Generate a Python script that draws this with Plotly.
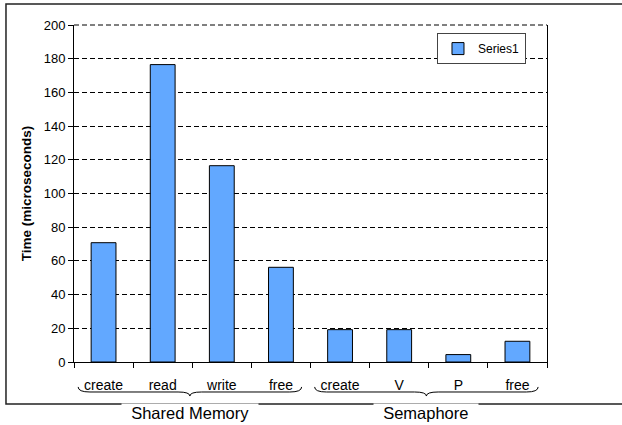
import plotly.graph_objects as go

# ---- data ----
categories = ["create", "read", "write", "free", "create", "V", "P", "free"]
groups = ["Shared Memory", "Shared Memory", "Shared Memory", "Shared Memory",
          "Semaphore", "Semaphore", "Semaphore", "Semaphore"]
series1 = [70.8, 176.5, 116.5, 56.2, 19.2, 19.2, 4.4, 12.3]
series_name = "Series1"
y_ticks = [0, 20, 40, 60, 80, 100, 120, 140, 160, 180, 200]

xs = list(range(len(categories)))
font_family = "Liberation Sans, Arial, sans-serif"

fig = go.Figure()
fig.add_trace(go.Bar(
    x=xs, y=series1, name=series_name,
    marker=dict(color="#62a8ff", line=dict(color="black", width=1)),
    showlegend=True,
))

shapes = []
annotations = []

# outer frame (right edge off-canvas)
shapes.append(dict(type="rect", xref="paper", yref="paper",
                   x0=-0.1438, x1=1.25, y0=-0.1246, y1=1.0623,
                   line=dict(color="#222222", width=1.5), layer="below"))
# top gridline at the top of the axis range (paper ref avoids clipping)
shapes.append(dict(type="line", xref="paper", yref="paper",
                   x0=0, x1=1, y0=1, y1=1,
                   line=dict(color="black", width=1, dash="5px,3px"), layer="above"))

# group braces and labels
group_names = []
for g in groups:
    if g not in group_names:
        group_names.append(g)

y_top, y_mid, y_tip = -0.074, -0.089, -0.101
for g in group_names:
    idx = [i for i, gg in enumerate(groups) if gg == g]
    x0 = idx[0] - 0.43
    x1 = idx[-1] + 0.35
    xm = (x0 + x1) / 2
    d = 0.2
    path = (f"M {x0},{y_top} Q {x0},{y_mid} {x0+d},{y_mid} "
            f"L {xm-d},{y_mid} Q {xm},{y_mid} {xm},{y_tip} "
            f"Q {xm},{y_mid} {xm+d},{y_mid} "
            f"L {x1-d},{y_mid} Q {x1},{y_mid} {x1},{y_top}")
    shapes.append(dict(type="path", path=path, xref="x", yref="paper",
                       line=dict(color="black", width=1), layer="above"))
    annotations.append(dict(x=xm, y=-0.152, xref="x", yref="paper",
                            text="\u00a0\u00a0" + g + "\u00a0\u00a0", showarrow=False,
                            font=dict(size=16.5, color="black", family=font_family),
                            bgcolor="white", borderpad=0,
                            xanchor="center", yanchor="middle"))

fig.update_layout(
    width=622, height=425,
    margin=dict(l=74, r=75, t=25, b=63),
    paper_bgcolor="white", plot_bgcolor="white",
    font=dict(family=font_family, size=12, color="black"),
    bargap=0.58,
    shapes=shapes,
    annotations=annotations,
    legend=dict(x=0.8615, y=0.976, xanchor="center", yanchor="top",
                bgcolor="white", bordercolor="#444444", borderwidth=1,
                font=dict(size=12, color="black"), itemwidth=30,
                tracegroupgap=0),
)

fig.update_xaxes(
    range=[-0.5, len(categories) - 0.5],
    tickmode="array", tickvals=xs, ticktext=categories,
    ticks="", showgrid=False, zeroline=False,
    showline=True, linecolor="black", linewidth=1,
    tickfont=dict(size=14, color="black"),
    ticklabelstandoff=10,
    minor=dict(tickvals=[i - 0.5 for i in range(len(categories) + 1)],
               ticks="outside", ticklen=5, tickcolor="black", tickwidth=1,
               showgrid=False),
)
fig.update_yaxes(
    range=[0, 200], tickmode="array", tickvals=y_ticks,
    ticks="outside", ticklen=5, tickcolor="black",
    showline=True, linecolor="black", linewidth=1, mirror=True,
    showgrid=True, gridcolor="black", griddash="5px,3px", gridwidth=1,
    zeroline=False,
    tickfont=dict(size=13, color="black"),
    title=dict(text="<b>Time (microseconds)</b>", font=dict(size=13.5, color="black"),
               standoff=8),
)

fig.write_html("out.html", config={"displayModeBar": False},
               post_script="document.body.style.margin='0px';")
